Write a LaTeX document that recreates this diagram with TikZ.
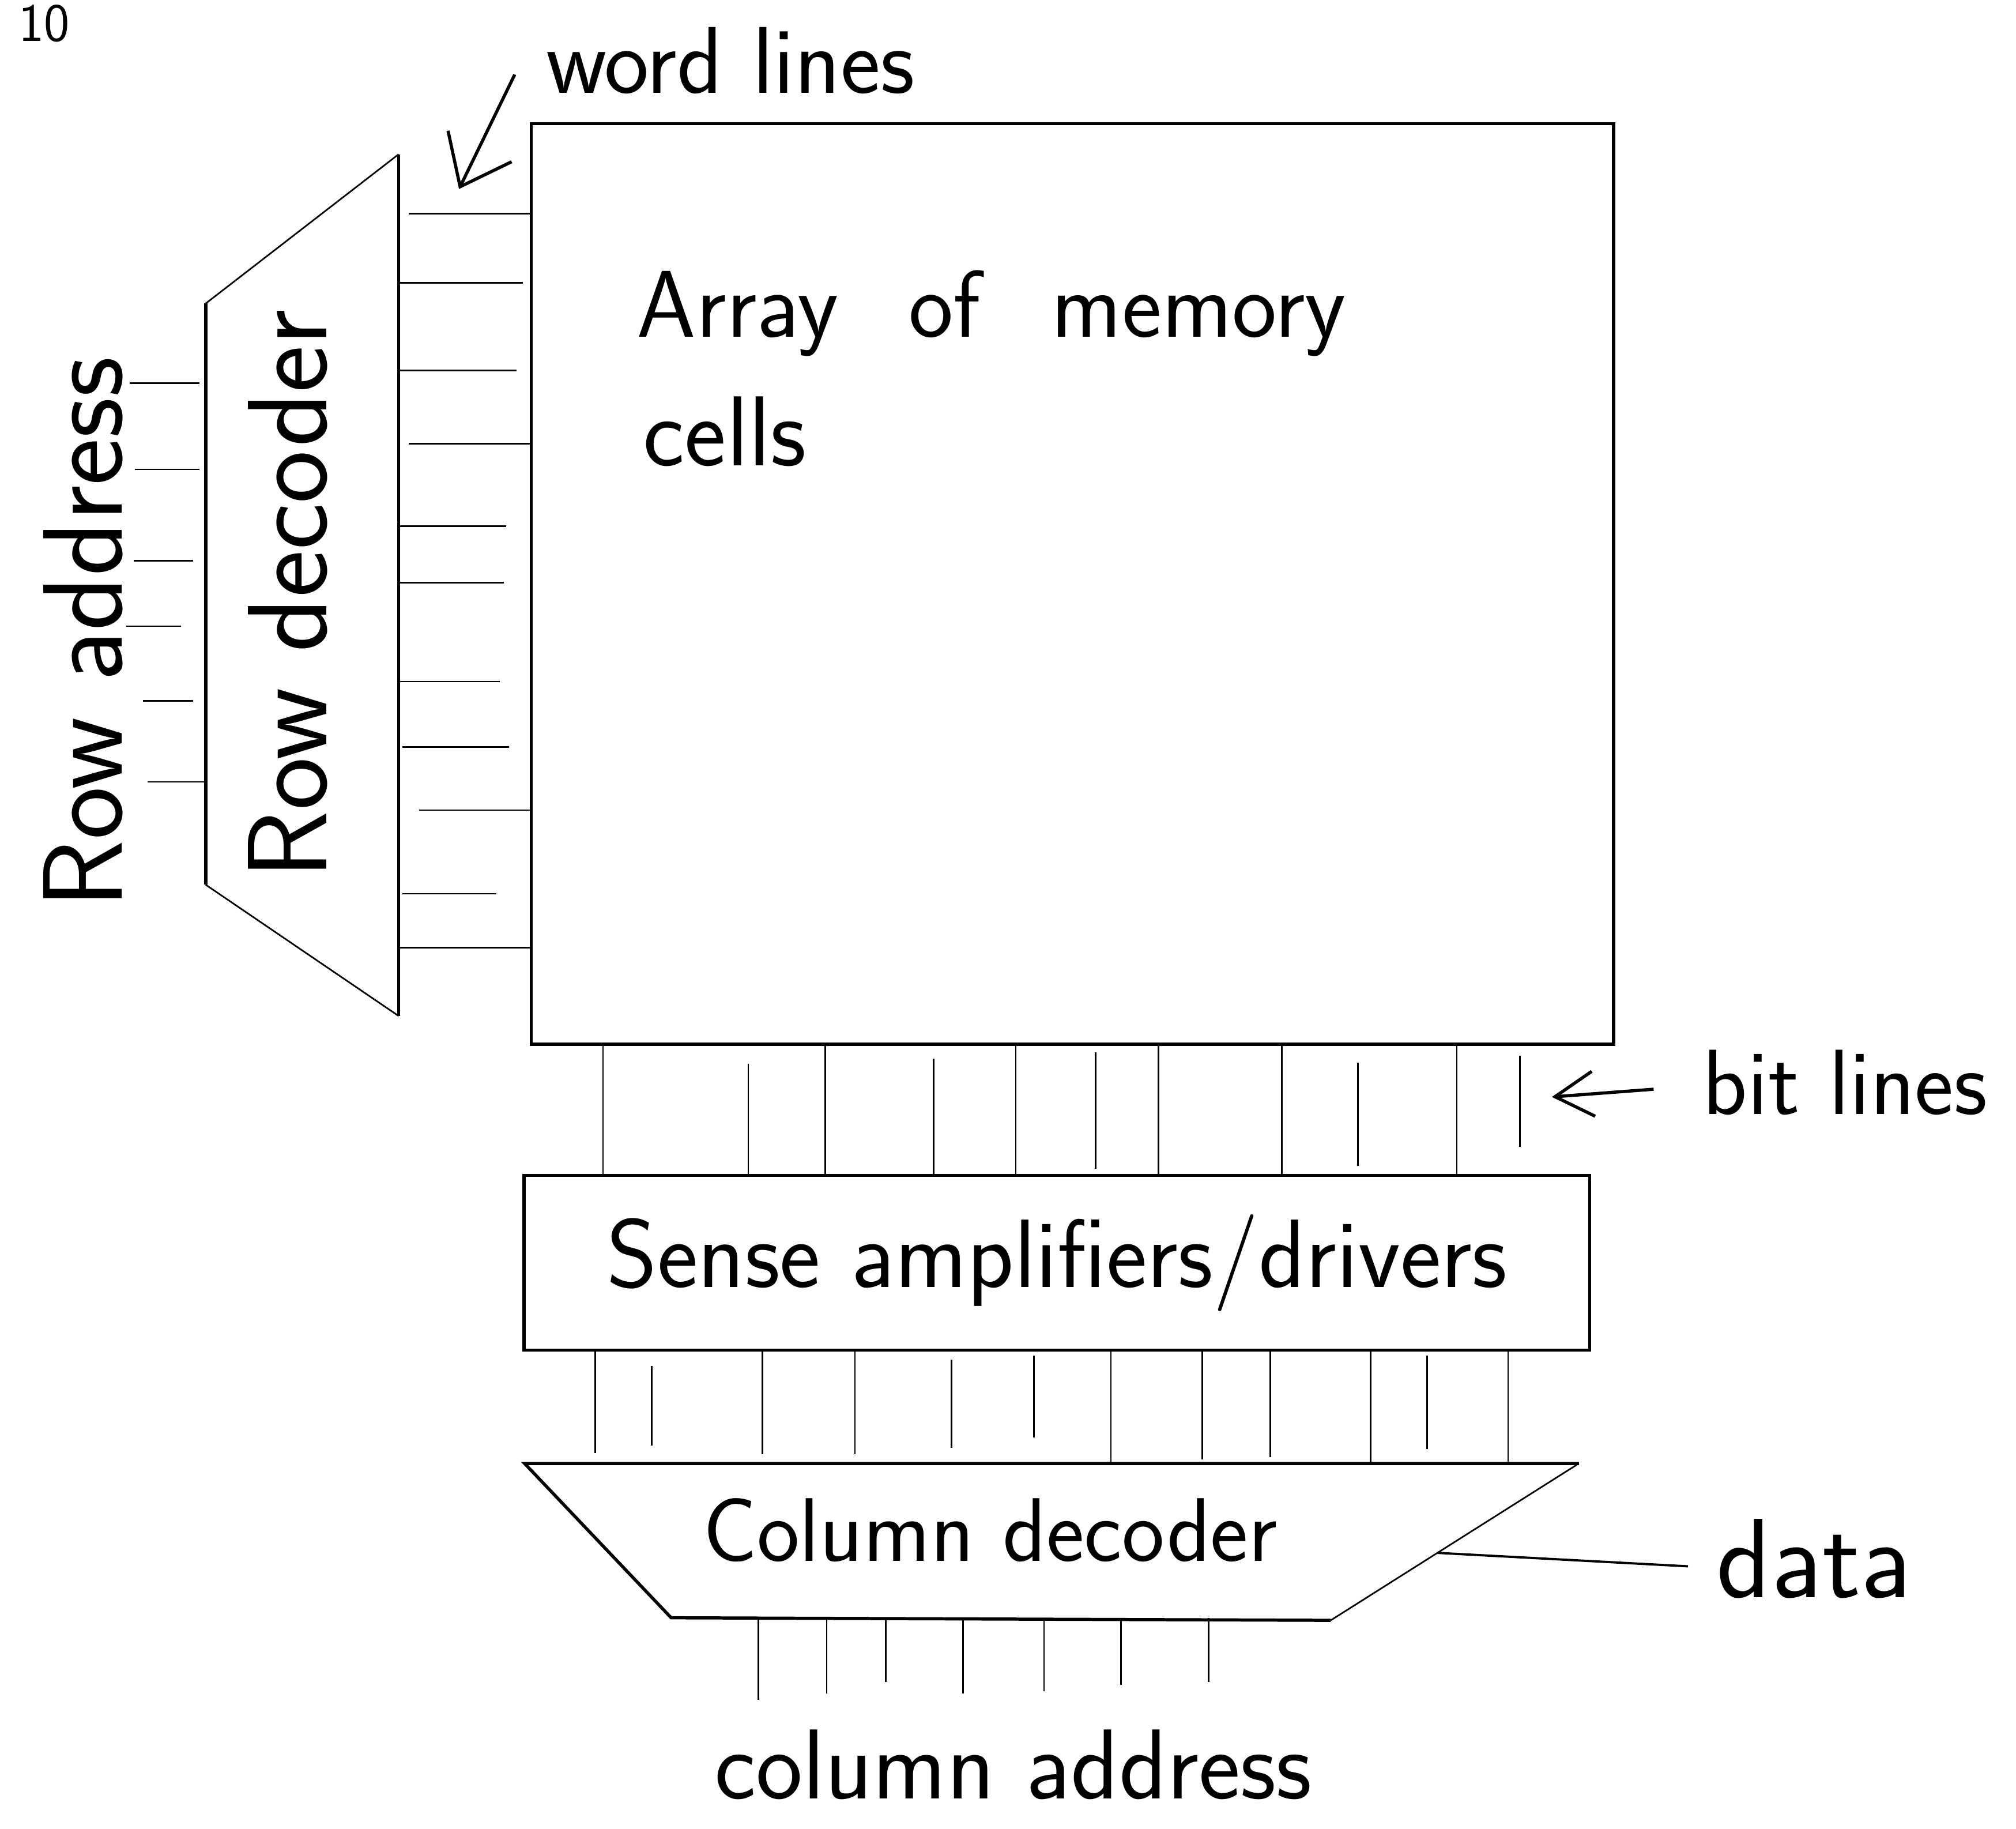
\documentclass[tikz,border=0pt]{standalone}
\usetikzlibrary{calc, arrows.meta}

\tikzset{
  box/.style={draw, line width=1.4pt, inner sep=0pt},
  wire/.style={line width=0.7pt},
  hand/.style={font=\sffamily\fontsize{#1}{#1}\selectfont, inner sep=0pt},
  hand/.default=42,
}

\begin{document}
\begin{tikzpicture}[x=0.02cm, y=-0.02cm]
\useasboundingbox (0,0) rectangle (1568,1422);

% page number in the top corner
\node[hand=24, anchor=base west] (pagenum) at (14,32) {10};

% memory array
\node[box, minimum width=16.84cm, minimum height=14.32cm] (array) at (834,454) {};
\node[hand=42, anchor=base west] (arraytxt) at (495,262) {Array\hspace{1.1cm}of\hspace{1.1cm}memory};
\node[hand=44, anchor=base west] (cellstxt) at (500,362) {cells};

% row decoder
\coordinate (rd-nw) at (160,236);
\coordinate (rd-ne) at (310,120);
\coordinate (rd-se) at (310,790);
\coordinate (rd-sw) at (160,688);
\draw[wire] (rd-nw) -- (rd-ne) (rd-sw) -- (rd-se);
\draw[line width=1.4pt] (rd-nw) -- (rd-sw) (rd-ne) -- (rd-se);
\node[hand=50, rotate=90, anchor=base] (rowdectxt) at (254,462) {Row decoder};
\node[hand=50, rotate=90, anchor=base] (rowaddr) at (95,492) {Row address};

\foreach \y/\e/\g in {298/101/1, 365/105/1, 436/104/2, 487/98/3.8, 545/111/2, 608/115/0} {
  \coordinate (ra-\y) at (\e,\y);
  \draw[wire, shorten <=\g mm] (rd-nw |- ra-\y) -- (ra-\y);
}

% word lines
\foreach \y/\a/\b in {166/1.6/0, 220/0/1, 288/0/2, 345/1.6/0, 409/0/3.6, 453/0/4,
                      530/0/4.6, 581/0.6/3.2, 630/3.2/0, 695/0.6/5.2, 737/0/0}
  \draw[wire, shorten <=\a mm, shorten >=\b mm] (rd-ne |- 0,\y) -- (array.west |- 0,\y);

\node[hand=42] (wordlbl) at (568,47) {word lines};
\coordinate (wordtip) at (357,147);
\draw[line width=1.4pt, -{Straight Barb[length=7mm, width=11mm]}]
  ($(wordlbl.west)+(-24,11)$) -- (wordtip);

% sense amplifiers
\node[box, hand=43, minimum width=16.58cm, minimum height=2.72cm] (sense) at (822,982)
  {Sense amplifiers/drivers};

% bit lines
\foreach \x/\a/\b in {469/0/0, 582/2.8/0, 642/0/0, 726/2/0, 790/0/0, 852/1/0.8,
                      901/0/0, 997/0/0, 1056/2.6/1.2, 1133/0/0, 1182/1.6/4.2}
  \draw[wire, shorten <=\a mm, shorten >=\b mm] (array.south -| \x,0) -- (sense.north -| \x,0);

\node[hand=41] (bitlbl) at (1435,842) {bit lines};
\coordinate (bittip) at (1207,853);
\draw[line width=1.4pt, -{Straight Barb[length=6mm, width=7mm]}]
  ($(bitlbl.west)+(-38,5)$) -- (bittip);

% column decoder
\coordinate (cd-nw) at (408,1138);
\coordinate (cd-ne) at (1228,1138);
\coordinate (cd-se) at (1035,1260);
\coordinate (cd-sw) at (522,1258);
\draw[line width=1.4pt] (cd-ne) -- (cd-nw) -- (cd-sw) -- (cd-se);
\draw[wire] (cd-ne) -- (cd-se);
\node[hand=40] (coldectxt) at (770,1190) {Column decoder};

\foreach \x/\a/\b in {463/0/1.6, 507/2.2/2.8, 593/0/1.4, 665/0/1.4, 740/1.2/2.4, 804/0.6/4,
                      864/0/0, 935/0/0.6, 988/0/1, 1066/0/0, 1110/0.6/2.2, 1173/0/0}
  \draw[wire, shorten <=\a mm, shorten >=\b mm] (sense.south -| \x,0) -- (cd-nw -| \x,0);

% column address
\foreach \x/\e in {590/1322, 643/1317, 689/1308, 749/1317, 812/1315, 872/1310, 940/1308} {
  \coordinate (ca-\x) at (\x,\e);
  \draw[wire] (ca-\x |- cd-sw) -- (ca-\x);
}
\node[hand=44] (coladdr) at (788,1372) {column address};

% data
\node[hand=50] (data) at (1411,1212) {data};
\coordinate (dataout) at ($(cd-ne)!0.57!(cd-se)$);
\draw[line width=1pt] (dataout) -- ($(data.west)+(-22,6)$);

\end{tikzpicture}
\end{document}
